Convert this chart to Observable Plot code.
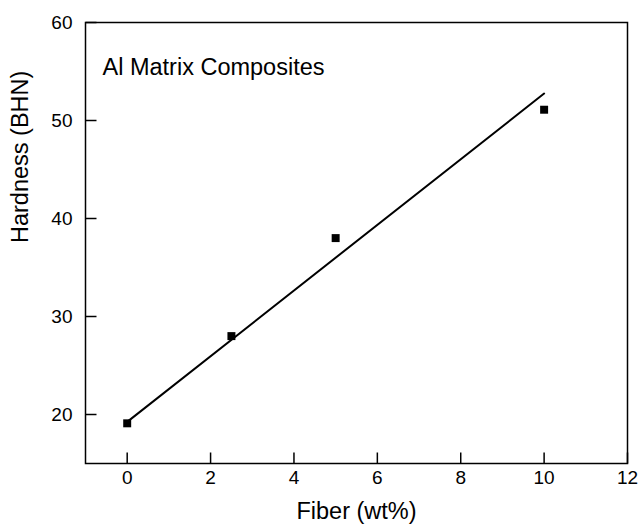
<!DOCTYPE html>
<html>
<head>
<meta charset="utf-8">
<script src="https://cdn.jsdelivr.net/npm/d3@7"></script>
<script src="https://cdn.jsdelivr.net/npm/@observablehq/plot@0.6"></script>
<style>
  html, body { margin: 0; padding: 0; background: #fff; }
</style>
</head>
<body>
<div id="chart"></div>
<script>
// Measured data
const fiber = [0, 2.5, 5, 10];
const hardness = [19.1, 28.0, 38.0, 51.1];
// Fitted line (as drawn)
const fitX = [0, 10];
const fitY = [19.25, 52.75];
const xTicks = [0, 2, 4, 6, 8, 10, 12];
const yTicks = [20, 30, 40, 50, 60];
const xDomain = [-1, 12];
const yDomain = [15, 60];
const title = "Al Matrix Composites";
const xLabel = "Fiber (wt%)";
const yLabel = "Hardness (BHN)";

const points = fiber.map((x, i) => ({x, y: hardness[i]}));
const fit = fitX.map((x, i) => ({x, y: fitY[i]}));

const FONT = '"Liberation Sans", Arial, sans-serif';
const TICK = 11;
// inward tick shapes (custom symbols)
const tickUp = {draw(ctx) { ctx.moveTo(0, 0); ctx.lineTo(0, -TICK); }};
const tickRight = {draw(ctx) { ctx.moveTo(0, 0); ctx.lineTo(TICK, 0); }};

const chart = Plot.plot({
  width: 642,
  height: 529,
  marginLeft: 85,
  marginRight: 15,
  marginTop: 22,
  marginBottom: 66,
  x: {domain: xDomain, axis: null},
  y: {domain: yDomain, axis: null},
  marks: [
    Plot.frame({stroke: "#000", strokeWidth: 1.5}),
    Plot.dot(xTicks, {x: d => d, frameAnchor: "bottom", symbol: tickUp, stroke: "#000", fill: "none", strokeWidth: 1.5}),
    Plot.dot(yTicks, {y: d => d, frameAnchor: "left", symbol: tickRight, stroke: "#000", fill: "none", strokeWidth: 1.5}),
    Plot.text(xTicks, {x: d => d, text: d => String(d), frameAnchor: "bottom", dy: 20, fontSize: 19, fontFamily: FONT, fill: "#000"}),
    Plot.text(yTicks, {y: d => d, text: d => String(d), frameAnchor: "left", dx: -13, textAnchor: "end", fontSize: 19, fontFamily: FONT, fill: "#000"}),
    Plot.line(fit, {x: "x", y: "y", stroke: "#000", strokeWidth: 2}),
    Plot.dot(points, {x: "x", y: "y", symbol: "square", r: 4.5, fill: "#000", stroke: "none"}),
    Plot.text([title], {frameAnchor: "top-left", dx: 17, dy: 36, textAnchor: "start", fontSize: 23.5, fontFamily: FONT, fill: "#000"}),
    Plot.text([xLabel], {frameAnchor: "bottom", dy: 55, fontSize: 23.5, fontFamily: FONT, fill: "#000"}),
    Plot.text([yLabel], {frameAnchor: "left", dx: -65, rotate: -90, fontSize: 23.5, fontFamily: FONT, fill: "#000"})
  ]
});
document.getElementById("chart").appendChild(chart);
</script>
</body>
</html>
